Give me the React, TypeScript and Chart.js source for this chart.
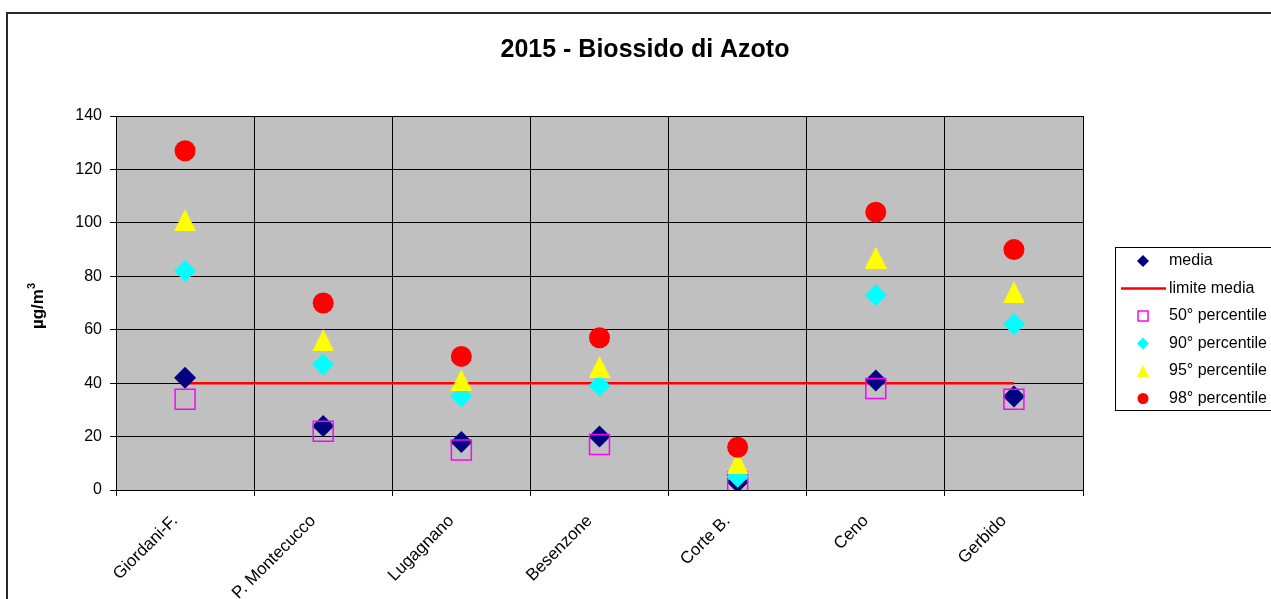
import React, { useEffect, useRef } from "react";
import { Chart, registerables } from "chart.js";

Chart.register(...registerables);

const categories = ["Giordani-F.", "P. Montecucco", "Lugagnano", "Besenzone", "Corte B.", "Ceno", "Gerbido"];
const media = [42, 24, 18, 20, 3, 41, 35];
const limiteMedia = [40, 40, 40, 40, 40, 40, 40];
const p50 = [34, 22, 15, 17, 3, 38, 34];
const p90 = [82, 47, 35, 39, 5, 73, 62];
const p95 = [101, 56, 41, 46, 10, 87, 74];
const p98 = [127, 70, 50, 57, 16, 104, 90];
const yTicks = [0, 20, 40, 60, 80, 100, 120, 140];

const FONT = '"Liberation Sans", Arial, sans-serif';

function makeTriangle(w: number, h: number, color: string) {
  const c = document.createElement("canvas");
  c.width = w;
  c.height = h;
  const ctx = c.getContext("2d")!;
  ctx.fillStyle = color;
  ctx.beginPath();
  ctx.moveTo(w / 2, 0);
  ctx.lineTo(w, h);
  ctx.lineTo(0, h);
  ctx.closePath();
  ctx.fill();
  return c;
}

const decorPlugin = {
  id: "decor",
  beforeDraw(chart: any) {
    const { ctx, chartArea, width, height } = chart;
    ctx.save();
    ctx.fillStyle = "#ffffff";
    ctx.fillRect(0, 0, width, height);
    ctx.fillStyle = "#C0C0C0";
    ctx.fillRect(chartArea.left, chartArea.top, chartArea.right - chartArea.left, chartArea.bottom - chartArea.top);
    // outer border
    ctx.strokeStyle = "#2a2a2a";
    ctx.lineWidth = 2;
    ctx.beginPath();
    ctx.moveTo(7, height + 5);
    ctx.lineTo(7, 13);
    ctx.lineTo(width + 5, 13);
    ctx.stroke();
    // title
    ctx.fillStyle = "#000";
    ctx.font = `bold 25px ${FONT}`;
    ctx.textAlign = "center";
    ctx.textBaseline = "alphabetic";
    ctx.fillText("2015 - Biossido di Azoto", 645, 57);
    // y axis title
    ctx.save();
    ctx.translate(43, 306);
    ctx.rotate(-Math.PI / 2);
    ctx.font = `bold 17px ${FONT}`;
    const main = "µg/m";
    const mw = ctx.measureText(main).width;
    ctx.font = `bold 11px ${FONT}`;
    const sw = ctx.measureText("3").width;
    const total = mw + sw;
    ctx.textAlign = "left";
    ctx.font = `bold 17px ${FONT}`;
    ctx.fillText(main, -total / 2, 0);
    ctx.font = `bold 11px ${FONT}`;
    ctx.fillText("3", -total / 2 + mw, -8);
    ctx.restore();
    ctx.restore();
  },
  afterDraw(chart: any) {
    const { ctx } = chart;
    ctx.save();
    ctx.strokeStyle = "#000";
    ctx.lineWidth = 1;
    ctx.fillStyle = "#fff";
    ctx.fillRect(1115.5, 247.5, 300, 163);
    ctx.strokeRect(1115.5, 247.5, 300, 163);
    const labels = ["media", "limite media", "50° percentile", "90° percentile", "95° percentile", "98° percentile"];
    const mx = 1143;
    labels.forEach((lab, i) => {
      const y = 261 + i * 27.5;
      ctx.beginPath();
      if (i === 0 || i === 3) {
        ctx.fillStyle = i === 0 ? "#000080" : "#00FFFF";
        ctx.moveTo(mx - 6, y);
        ctx.lineTo(mx, y - 6);
        ctx.lineTo(mx + 6, y);
        ctx.lineTo(mx, y + 6);
        ctx.closePath();
        ctx.fill();
      } else if (i === 1) {
        ctx.strokeStyle = "#FF0000";
        ctx.lineWidth = 2.5;
        ctx.moveTo(1121, y);
        ctx.lineTo(1166, y);
        ctx.stroke();
      } else if (i === 2) {
        ctx.strokeStyle = "#FF00FF";
        ctx.lineWidth = 1.5;
        ctx.strokeRect(mx - 5, y - 5, 10, 10);
      } else if (i === 4) {
        ctx.fillStyle = "#FFFF00";
        ctx.moveTo(mx, y - 6);
        ctx.lineTo(mx + 6, y + 6);
        ctx.lineTo(mx - 6, y + 6);
        ctx.closePath();
        ctx.fill();
      } else {
        ctx.fillStyle = "#FF0000";
        ctx.arc(mx, y, 5.5, 0, Math.PI * 2);
        ctx.fill();
      }
      ctx.fillStyle = "#000";
      ctx.font = `16px ${FONT}`;
      ctx.textAlign = "left";
      ctx.textBaseline = "middle";
      ctx.fillText(lab, 1169, y);
    });
    ctx.restore();
  },
};

export default function App() {
  const ref = useRef<HTMLCanvasElement | null>(null);
  useEffect(() => {
    if (!ref.current) return;
    const tri = makeTriangle(22, 22, "#FFFF00");
    const chart = new Chart(ref.current, {
      type: "line",
      data: {
        labels: categories,
        datasets: [
          { label: "media", data: media, showLine: false, pointStyle: "rectRot", pointRadius: 11, pointBackgroundColor: "#000080", pointBorderColor: "#000080", pointBorderWidth: 0, order: 6 },
          { label: "limite media", data: limiteMedia, showLine: true, borderColor: "#FF0000", borderWidth: 2.5, pointRadius: 0, order: 10 },
          { label: "50° percentile", data: p50, showLine: false, pointStyle: "rect", pointRadius: 14.1, pointBackgroundColor: "rgba(0,0,0,0)", pointBorderColor: "#FF00FF", pointBorderWidth: 1.5, order: 5 },
          { label: "90° percentile", data: p90, showLine: false, pointStyle: "rectRot", pointRadius: 11, pointBackgroundColor: "#00FFFF", pointBorderColor: "#00FFFF", pointBorderWidth: 0, order: 4 },
          { label: "95° percentile", data: p95, showLine: false, pointStyle: tri as any, pointRadius: 11, pointBackgroundColor: "#FFFF00", pointBorderColor: "#FFFF00", order: 3 },
          { label: "98° percentile", data: p98, showLine: false, pointStyle: "circle", pointRadius: 10.5, pointBackgroundColor: "#FF0000", pointBorderColor: "#FF0000", pointBorderWidth: 0, order: 1 },
        ] as any,
      },
      options: {
        responsive: false,
        animation: false,
        devicePixelRatio: 1,
        events: [],
        layout: { padding: { top: 116, right: 188, left: 0, bottom: 0 } },
        plugins: { legend: { display: false }, title: { display: false }, tooltip: { enabled: false } },
        scales: {
          x: {
            type: "category",
            offset: true,
            grid: { offset: true, color: "#000", lineWidth: 1, tickLength: 6, drawTicks: true },
            border: { display: true, color: "#000", width: 1 },
            ticks: {
              autoSkip: false,
              minRotation: 45,
              maxRotation: 45,
              color: "#000",
              font: { family: FONT, size: 17 },
              padding: 15,
              labelOffset: -10,
            },
            afterFit: (scale: any) => { scale.height = 109; },
          },
          y: {
            min: 0,
            max: 140,
            afterBuildTicks: (scale: any) => { scale.ticks = yTicks.map((v) => ({ value: v })); },
            grid: { color: "#000", lineWidth: 1, tickLength: 6, drawTicks: true },
            border: { display: true, color: "#000", width: 1 },
            ticks: { color: "#000", font: { family: FONT, size: 16 }, padding: 8 },
            afterFit: (scale: any) => { scale.width = 116; },
          },
        },
      } as any,
      plugins: [decorPlugin],
    });
    return () => chart.destroy();
  }, []);
  return (
    <div style={{ position: "fixed", left: 0, top: 0, width: 1271, height: 599, overflow: "hidden", background: "#fff" }}>
      <canvas ref={ref} width={1271} height={599} style={{ display: "block" }} />
    </div>
  );
}
